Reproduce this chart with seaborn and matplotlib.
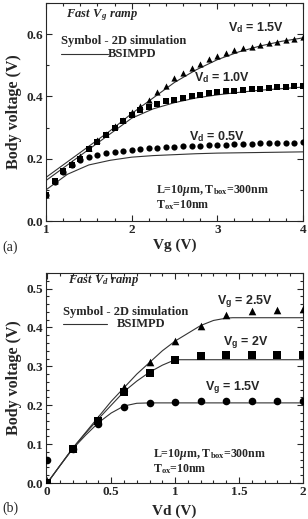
import matplotlib
matplotlib.use("Agg")
import matplotlib.pyplot as plt
import seaborn as sns
import pandas as pd
from matplotlib.ticker import MultipleLocator, FixedFormatter, FixedLocator

# ---- panel (a): fast Vg ramp ----
vg_sym = [1.0, 1.1, 1.2, 1.3, 1.4, 1.5, 1.6, 1.7, 1.8, 1.9, 2.0, 2.1, 2.2, 2.3, 2.4, 2.5,
          2.6, 2.7, 2.8, 2.9, 3.0, 3.1, 3.2, 3.3, 3.4, 3.5, 3.6, 3.7, 3.8, 3.9, 4.0]
vb_sim_vd15 = [0.085, 0.13, 0.16, 0.185, 0.21, 0.235, 0.26, 0.28, 0.305, 0.325, 0.35, 0.37, 0.39,
               0.415, 0.435, 0.46, 0.475, 0.49, 0.505, 0.52, 0.53, 0.54, 0.55, 0.555, 0.56, 0.565,
               0.57, 0.575, 0.58, 0.585, 0.59]
vb_sim_vd10 = [0.085, 0.13, 0.16, 0.18, 0.20, 0.23, 0.255, 0.275, 0.30, 0.32, 0.34, 0.355, 0.365,
               0.375, 0.385, 0.39, 0.395, 0.40, 0.405, 0.41, 0.413, 0.416, 0.419, 0.421, 0.423,
               0.425, 0.427, 0.429, 0.431, 0.433, 0.435]
vb_sim_vd05 = [0.085, 0.125, 0.158, 0.18, 0.195, 0.205, 0.212, 0.217, 0.222, 0.226, 0.229, 0.231,
               0.233, 0.235, 0.237, 0.239, 0.24, 0.241, 0.242, 0.243, 0.244, 0.245, 0.246, 0.247,
               0.248, 0.249, 0.25, 0.251, 0.252, 0.252, 0.253]

vg_line = [1.0, 1.25, 1.5, 1.75, 2.0, 2.25, 2.5, 2.75, 3.0, 3.25, 3.5, 3.75, 4.0]
vb_model_vd15 = [0.14, 0.19, 0.24, 0.29, 0.345, 0.395, 0.445, 0.485, 0.518, 0.543, 0.562, 0.577, 0.588]
vb_model_vd10 = [0.13, 0.18, 0.23, 0.28, 0.33, 0.36, 0.38, 0.395, 0.405, 0.413, 0.42, 0.425, 0.43]
vb_model_vd05 = [0.10, 0.15, 0.18, 0.195, 0.205, 0.21, 0.213, 0.216, 0.218, 0.219, 0.22, 0.221, 0.222]

# ---- panel (b): fast Vd ramp ----
vd_sym = [0.0, 0.2, 0.4, 0.6, 0.8, 1.0, 1.2, 1.4, 1.6, 1.8, 2.0]
vb_sim_vg25 = [0.0, 0.09, 0.165, 0.248, 0.312, 0.366, 0.405, 0.432, 0.443, 0.446, 0.448]
vb_sim_vg20 = [0.0, 0.088, 0.16, 0.233, 0.283, 0.316, 0.326, 0.328, 0.329, 0.329, 0.329]
vb_sim_vg15 = [0.06, 0.087, 0.152, 0.195, 0.207, 0.208, 0.21, 0.211, 0.211, 0.211, 0.212]

vd_line = [0.0, 0.1, 0.2, 0.3, 0.4, 0.5, 0.6, 0.7, 0.8, 0.9, 1.0, 1.1, 1.2, 1.3, 1.4, 1.45,
           1.6, 1.8, 2.0]
vb_model_vg25 = [0.0, 0.045, 0.09, 0.13, 0.17, 0.21, 0.245, 0.28, 0.31, 0.34, 0.365, 0.385,
                 0.405, 0.418, 0.424, 0.425, 0.425, 0.425, 0.425]
vb_model_vg20 = [0.0, 0.045, 0.09, 0.128, 0.165, 0.2, 0.235, 0.262, 0.285, 0.303, 0.317, 0.317,
                 0.317, 0.317, 0.317, 0.317, 0.317, 0.317, 0.317]
vb_model_vg15 = [0.0, 0.045, 0.088, 0.123, 0.155, 0.18, 0.198, 0.205, 0.206, 0.206, 0.206, 0.206,
                 0.206, 0.206, 0.206, 0.206, 0.206, 0.206, 0.206]

vd_ticks = [0, 0.5, 1, 1.5, 2]
vd_ticklabels = ["0", "0.5", "1", "1.5", "2"]

sns.set_style("ticks")
plt.rcParams["font.family"] = ["Liberation Serif", "DejaVu Serif"]
plt.rcParams["font.weight"] = "bold"
plt.rcParams["mathtext.fontset"] = "custom"
plt.rcParams["mathtext.rm"] = "Liberation Serif:bold"
plt.rcParams["mathtext.it"] = "Liberation Serif:bold:italic"
plt.rcParams["mathtext.sf"] = "Liberation Sans:bold"

fig = plt.figure(figsize=(3.08, 5.19), dpi=100)
ax1 = fig.add_axes([46 / 308, (519 - 221) / 519, 257 / 308, 218 / 519])
ax2 = fig.add_axes([46 / 308, 36 / 519, 257 / 308, 210 / 519])

sym = pd.DataFrame({"x": vg_sym * 3,
                    "y": vb_sim_vd15 + vb_sim_vd10 + vb_sim_vd05,
                    "case": ["1.5"] * 31 + ["1.0"] * 31 + ["0.5"] * 31})
mod = pd.DataFrame({"x": vg_line * 3,
                    "y": vb_model_vd15 + vb_model_vd10 + vb_model_vd05,
                    "case": ["1.5"] * 13 + ["1.0"] * 13 + ["0.5"] * 13})

for case, mk, ms in [("1.5", "^", 20), ("1.0", "s", 15), ("0.5", "o", 20)]:
    sns.lineplot(data=mod[mod.case == case], x="x", y="y", ax=ax1, color="#333333",
                 linewidth=0.8, legend=False)
    sns.scatterplot(data=sym[sym.case == case], x="x", y="y", ax=ax1, marker=mk, s=ms,
                    color="black", edgecolor="black", linewidth=0, legend=False, zorder=3)

sym2 = pd.DataFrame({"x": vd_sym * 3,
                     "y": vb_sim_vg25 + vb_sim_vg20 + vb_sim_vg15,
                     "case": ["2.5"] * 11 + ["2"] * 11 + ["1.5"] * 11})
mod2 = pd.DataFrame({"x": vd_line * 3,
                     "y": vb_model_vg25 + vb_model_vg20 + vb_model_vg15,
                     "case": ["2.5"] * 19 + ["2"] * 19 + ["1.5"] * 19})

for case, mk, ms in [("2.5", "^", 30), ("2", "s", 26), ("1.5", "o", 30)]:
    sns.lineplot(data=mod2[mod2.case == case], x="x", y="y", ax=ax2, color="#333333",
                 linewidth=0.8, legend=False)
    sns.scatterplot(data=sym2[sym2.case == case], x="x", y="y", ax=ax2, marker=mk, s=ms,
                    color="black", edgecolor="black", linewidth=0, legend=False, zorder=3)

lab_font = dict(family="Liberation Sans", weight="bold", fontsize=9)
txt = 9
note = 8.6

# panel (a) decorations
ax1.set_xlim(1, 4)
ax1.set_ylim(0, 0.7)
ax1.xaxis.set_major_locator(MultipleLocator(1))
ax1.xaxis.set_minor_locator(MultipleLocator(0.2))
ax1.yaxis.set_major_locator(MultipleLocator(0.2))
ax1.yaxis.set_minor_locator(MultipleLocator(0.1))
ax1.set_xlabel("Vg (V)", fontsize=11, fontweight="bold", labelpad=2)
ax1.set_ylabel("Body voltage (V)", fontsize=11.5, fontweight="bold", labelpad=3)
ax1.text(1.23, 0.66, r"Fast $V_{\,g}$ ramp", fontsize=txt, style="italic", fontweight="bold",
         va="center")
ax1.text(1.17, 0.577, "Symbol - 2D simulation", fontsize=txt, fontweight="bold", va="center")
ax1.plot([1.17, 1.72], [0.535, 0.535], color="#333333", linewidth=0.8)
ax1.text(1.72, 0.535, "BSIMPD", fontsize=txt, fontweight="bold", va="center")
ax1.text(3.45, 0.62, r"V$_\mathsf{d}$ = 1.5V", ha="center", va="center", **lab_font)
ax1.text(3.05, 0.46, r"V$_\mathsf{d}$ = 1.0V", ha="center", va="center", **lab_font)
ax1.text(3.0, 0.27, r"V$_\mathsf{d}$ = 0.5V", ha="center", va="center", **lab_font)
ax1.text(2.28, 0.097, r"L=10$\mu$m, T$_\mathrm{box}$=300nm", fontsize=note, fontweight="bold",
         va="center")
ax1.text(2.28, 0.052, r"T$_\mathrm{ox}$=10nm", fontsize=note, fontweight="bold", va="center")
fig.text(2 / 308, 1 - 247 / 519, "(a)", fontsize=10, fontweight="normal", va="center")

# panel (b) decorations
ax2.set_xlim(-0.01, 2.0)
ax2.set_ylim(0, 0.54)
ax2.xaxis.set_major_locator(FixedLocator(vd_ticks))
ax2.xaxis.set_major_formatter(FixedFormatter(vd_ticklabels))
ax2.xaxis.set_minor_locator(MultipleLocator(0.1))
ax2.yaxis.set_major_locator(MultipleLocator(0.1))
ax2.yaxis.set_minor_locator(MultipleLocator(0.02))
ax2.set_xlabel("Vd (V)", fontsize=11, fontweight="bold", labelpad=5)
ax2.set_ylabel("Body voltage (V)", fontsize=11.5, fontweight="bold", labelpad=3)
ax2.text(0.16, 0.52, r"Fast $V_{d}$ ramp", fontsize=txt, style="italic", fontweight="bold",
         va="center")
ax2.text(0.12, 0.44, "Symbol - 2D simulation", fontsize=txt, fontweight="bold", va="center")
ax2.plot([0.12, 0.47], [0.41, 0.41], color="#333333", linewidth=0.8)
ax2.text(0.54, 0.41, "BSIMPD", fontsize=txt, fontweight="bold", va="center")
ax2.text(1.55, 0.467, r"V$_\mathsf{g}$ = 2.5V", ha="center", va="center", **lab_font)
ax2.text(1.55, 0.36, r"V$_\mathsf{g}$ = 2V", ha="center", va="center", **lab_font)
ax2.text(1.45, 0.245, r"V$_\mathsf{g}$ = 1.5V", ha="center", va="center", **lab_font)
ax2.text(0.83, 0.074, r"L=10$\mu$m, T$_\mathrm{box}$=300nm", fontsize=note, fontweight="bold",
         va="center")
ax2.text(0.83, 0.036, r"T$_\mathrm{ox}$=10nm", fontsize=note, fontweight="bold", va="center")
fig.text(2 / 308, 1 - 508 / 519, "(b)", fontsize=10, fontweight="normal", va="center")

for ax in (ax1, ax2):
    ax.tick_params(which="both", direction="in", top=True, right=True, labelsize=9.5,
                   width=0.8)
    ax.tick_params(which="major", length=4, pad=2)
    ax.tick_params(which="minor", length=2)
    for lbl in ax.get_xticklabels() + ax.get_yticklabels():
        lbl.set_fontweight("bold")
    for sp in ax.spines.values():
        sp.set_linewidth(0.8)

fig.savefig("out.png", dpi=100)
